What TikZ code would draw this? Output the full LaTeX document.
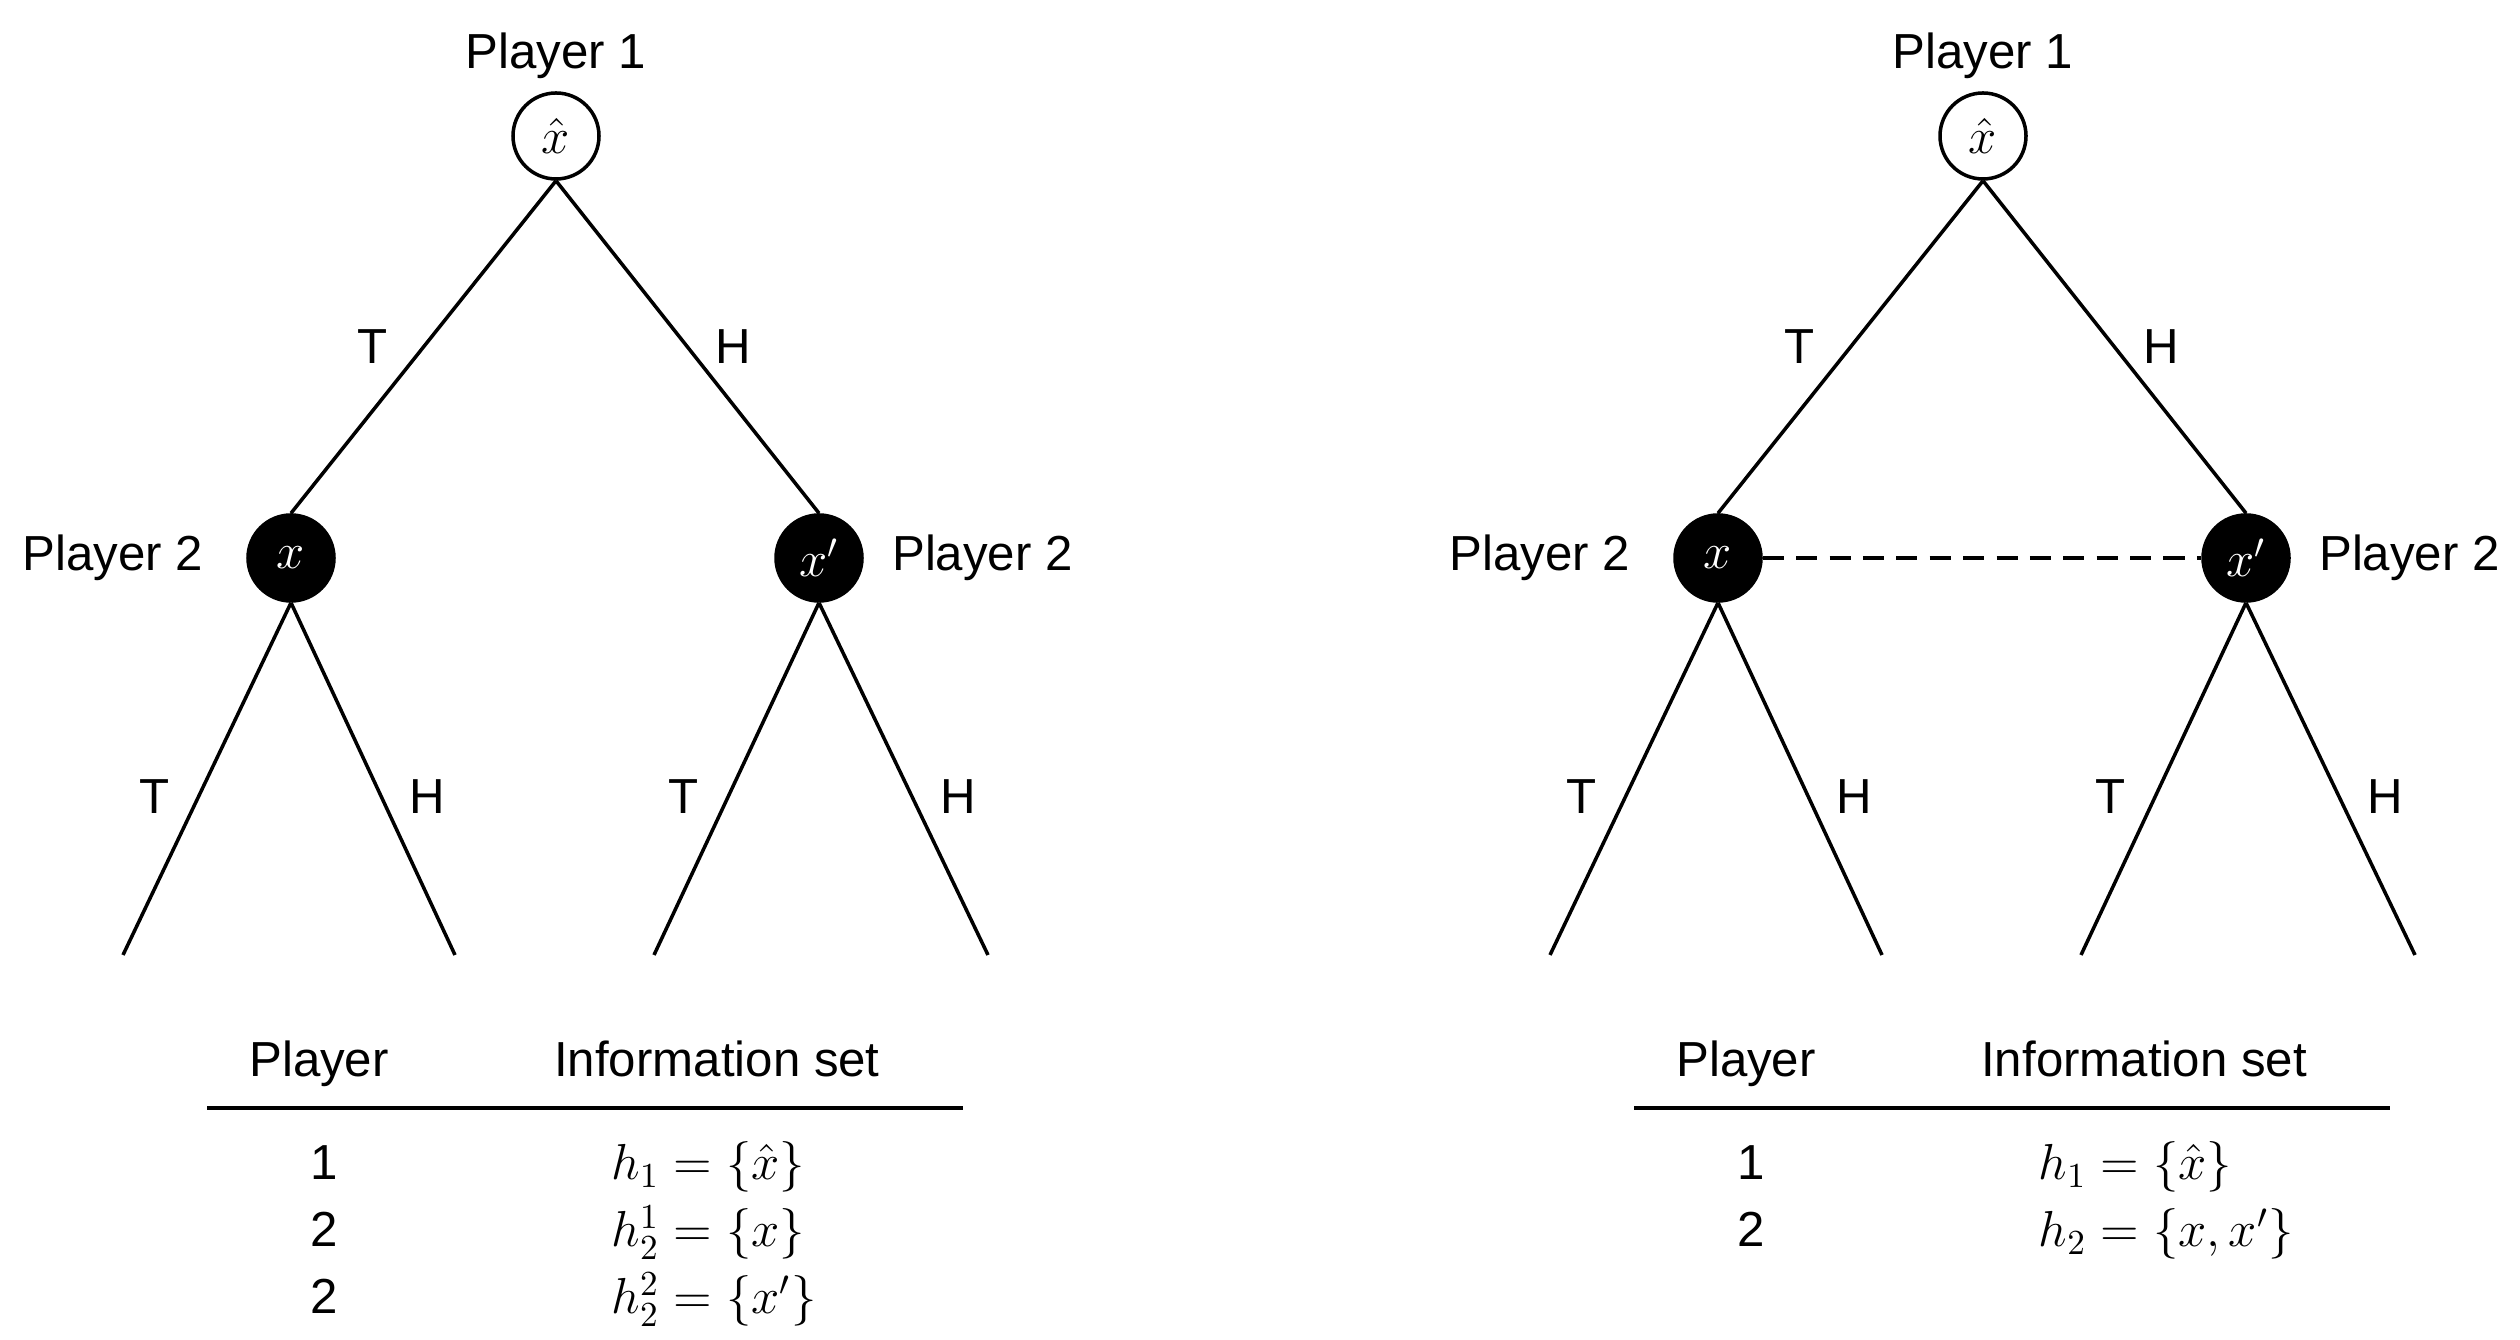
\documentclass[tikz,border=0pt]{standalone}
\usepackage{amsmath}
\usepackage[no-math]{fontspec}
\setmainfont{Liberation Sans}
\usetikzlibrary{positioning}
\tikzset{
every node/.style={font=\fontsize{14}{17}\selectfont}, % Same text size everywhere
decision/.style=
    { % Node where a player moves
        circle,
        draw,
        line width=1pt,
        minimum size=0.86cm,
        inner sep=0pt
    },
    hidden/.style={decision,fill=black,text=white}, % Nodes of player 2
    branch/.style={draw,line width=1pt}, % Lines of the tree
    every edge/.style={branch}
}

\begin{document}
\begin{tikzpicture}
\useasboundingbox (0,0) rectangle (25.2,13.4);

% left tree: perfect information
\node [decision]  (root) at (5.56,12.04) {$\hat{x}$};
\node [hidden]    (x)    at (2.91,7.82)  {$x$};
\node [hidden]    (xp)   at (8.19,7.82)  {$x'$};
\coordinate (l1) at (1.23,3.85);
\coordinate (l2) at (4.55,3.85);
\coordinate (l3) at (6.54,3.85);
\coordinate (l4) at (9.88,3.85);

\node (p1)  [above=0cm of root] {Player 1};
\node (p2a) [left=0.31cm of x]  {Player 2};
\node (p2b) [right=0.16cm of xp] {Player 2};

\draw
    (root.south) edge node[left=0.22cm]{T} (x.north)
    (root.south) edge node[right=0.15cm]{H} (xp.north)
    (x.south)  edge node[pos=0.55,left=0.16cm]{T} (l1)
    (x.south)  edge node[pos=0.55,right=0.15cm]{H} (l2)
    (xp.south) edge node[pos=0.55,left=0.16cm]{T} (l3)
    (xp.south) edge node[pos=0.55,right=0.15cm]{H} (l4);

% left table
\node (hp)  [anchor=base] at (3.19,2.63) {Player};
\node (hi)  [anchor=base] at (7.17,2.63) {Information set};
\coordinate (ra) at (2.07,2.32);
\coordinate (rb) at (9.63,2.32);
\draw [line width=1.2pt] (ra) -- (rb);
\node (nums) [anchor=base,inner sep=0pt] at (3.24,1.60) {%
    \renewcommand{\arraystretch}{1.12}%
    \begin{tabular}[t]{@{}c@{}}
        1\\
        2\\
        2\\
    \end{tabular}%
};
\node (sets) [anchor=base west,inner sep=0pt] at (6.11,1.60) {%
    \renewcommand{\arraystretch}{1.12}%
    \begin{tabular}[t]{@{}l@{}}
        $h_1=\{\hat{x}\}$\\
        $h_2^1=\{x\}$\\
        $h_2^2=\{x'\}$\\
    \end{tabular}%
};

% right tree: imperfect information
\node [decision]  (root2) at (19.83,12.04) {$\hat{x}$};
\node [hidden]    (x2)    at (17.18,7.82)  {$x$};
\node [hidden]    (xp2)   at (22.46,7.82)  {$x'$};
\coordinate (m1) at (15.50,3.85);
\coordinate (m2) at (18.82,3.85);
\coordinate (m3) at (20.81,3.85);
\coordinate (m4) at (24.15,3.85);

\node (q1)  [above=0cm of root2] {Player 1};
\node (q2a) [left=0.31cm of x2]  {Player 2};
\node (q2b) [right=0.16cm of xp2] {Player 2};

\draw
    (root2.south) edge node[left=0.22cm]{T} (x2.north)
    (root2.south) edge node[right=0.15cm]{H} (xp2.north)
    (x2.south)  edge node[pos=0.55,left=0.16cm]{T} (m1)
    (x2.south)  edge node[pos=0.55,right=0.15cm]{H} (m2)
    (xp2.south) edge node[pos=0.55,left=0.16cm]{T} (m3)
    (xp2.south) edge node[pos=0.55,right=0.15cm]{H} (m4);
\draw [line width=1pt,dash pattern=on 6pt off 3.5pt] (x2) -- (xp2);

% right table
\node (kp)  [anchor=base] at (17.46,2.63) {Player};
\node (ki)  [anchor=base] at (21.44,2.63) {Information set};
\coordinate (rc) at (16.34,2.32);
\coordinate (rd) at (23.90,2.32);
\draw [line width=1.2pt] (rc) -- (rd);
\node (nums2) [anchor=base,inner sep=0pt] at (17.51,1.60) {%
    \renewcommand{\arraystretch}{1.12}%
    \begin{tabular}[t]{@{}c@{}}
        1\\
        2\\
    \end{tabular}%
};
\node (sets2) [anchor=base west,inner sep=0pt] at (20.38,1.60) {%
    \renewcommand{\arraystretch}{1.12}%
    \begin{tabular}[t]{@{}l@{}}
        $h_1=\{\hat{x}\}$\\
        $h_2=\{x,x'\}$\\
    \end{tabular}%
};
\end{tikzpicture}
\end{document}
